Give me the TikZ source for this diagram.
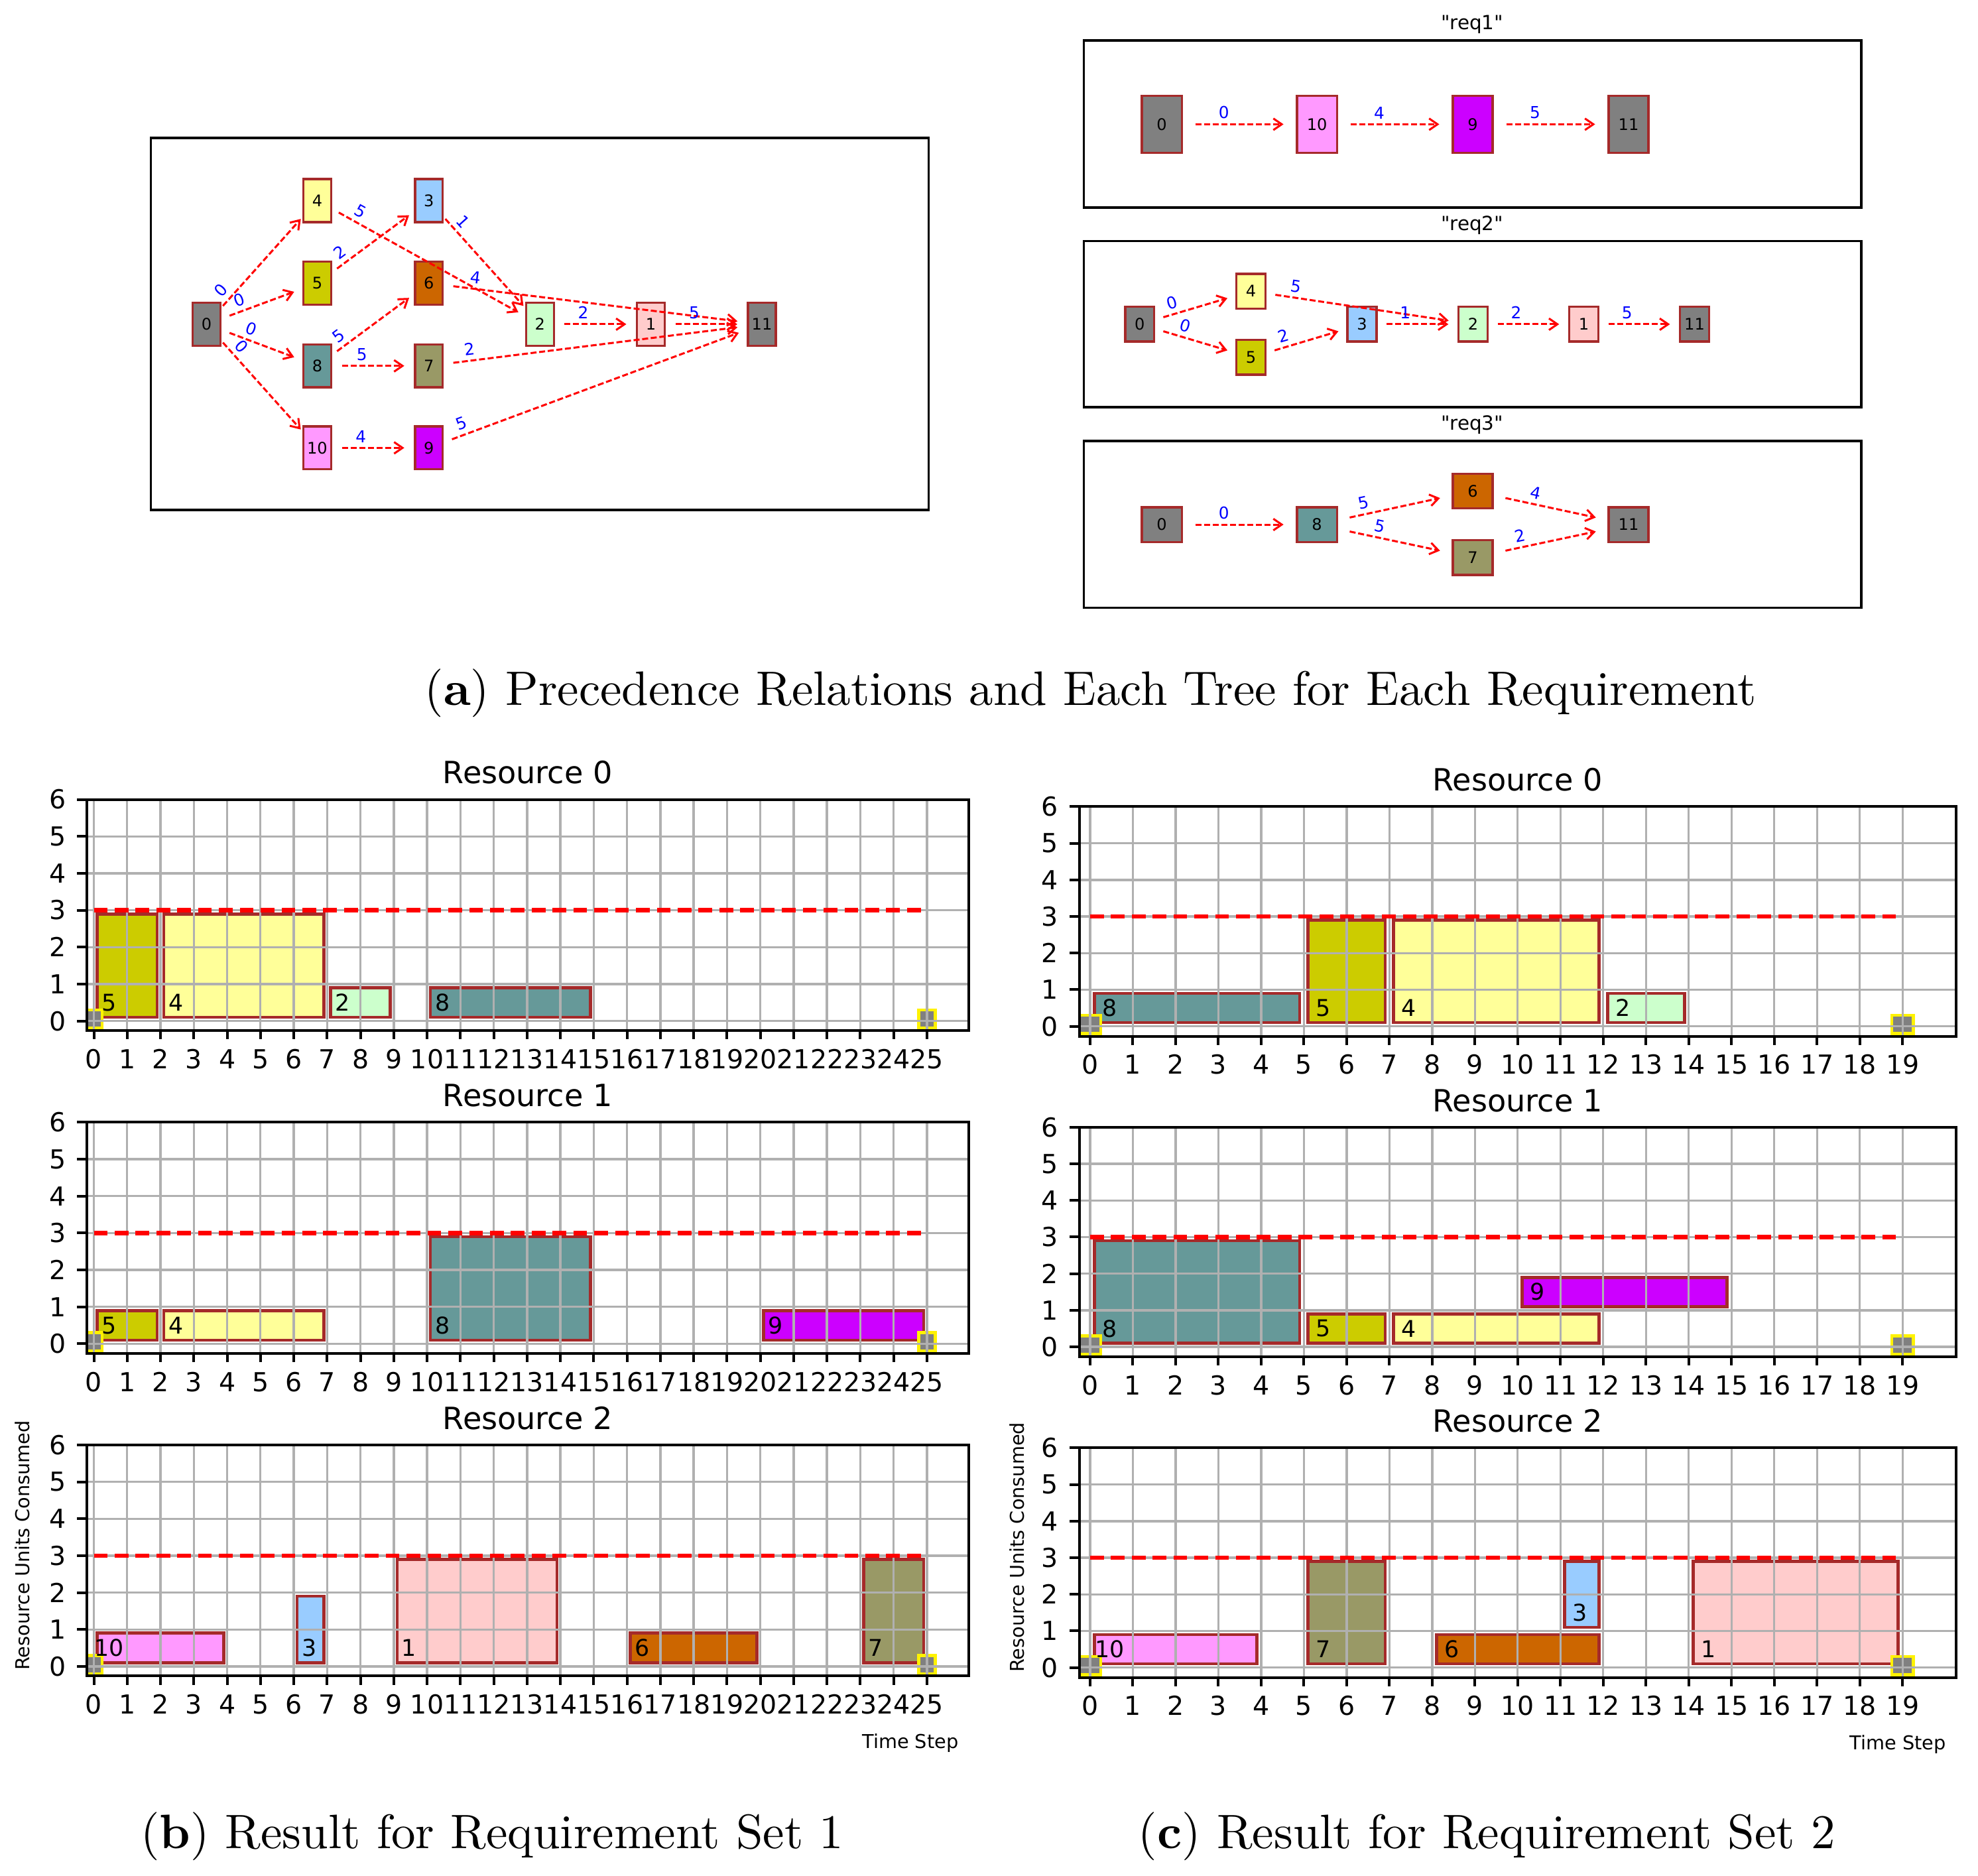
\documentclass[tikz,border=0pt]{standalone}
\usepackage{fontspec}
\newfontfamily\dv{DejaVu Sans}
\usetikzlibrary{arrows.meta}
\definecolor{brn}{HTML}{A52A2A}
\definecolor{c0}{HTML}{808080}
\definecolor{c1}{HTML}{FFCCCC}
\definecolor{c2}{HTML}{CCFFCC}
\definecolor{c3}{HTML}{99CCFF}
\definecolor{c4}{HTML}{FFFF99}
\definecolor{c5}{HTML}{CCCC00}
\definecolor{c6}{HTML}{CC6600}
\definecolor{c7}{HTML}{999966}
\definecolor{c8}{HTML}{669999}
\definecolor{c9}{HTML}{CC00FF}
\definecolor{c10}{HTML}{FF99FF}
\definecolor{c11}{HTML}{808080}
\definecolor{gridc}{HTML}{B0B0B0}
\tikzset{
  frame/.style={draw=black, line width=0.5pt},
  gnode/.style={draw=brn, line width=0.5pt, inner sep=0pt, font=\dv\fontsize{3.6}{4}\selectfont, text=black},
  lnode/.style={gnode, minimum width=0.22cm, minimum height=0.34cm},
  aonode/.style={gnode, minimum width=0.316cm, minimum height=0.45cm},
  btnode/.style={gnode, minimum width=0.23cm, minimum height=0.275cm},
  ctnode/.style={gnode, minimum width=0.316cm, minimum height=0.275cm},
  edgebase/.style={draw=red, line width=0.45pt, dash pattern=on 1.35pt off 0.6pt, -{Straight Barb[length=1.9pt,width=2.6pt]}},
  edgeA/.style={edgebase, shorten <=0.195cm, shorten >=0.195cm},
  edgeB/.style={edgebase, shorten <=0.265cm, shorten >=0.265cm},
  elab/.style={font=\dv\fontsize{3.7}{4}\selectfont, text=blue, sloped, above, inner sep=1pt},
  reqt/.style={anchor=base, inner sep=0pt, font=\dv\fontsize{4.4}{5}\selectfont},
  capt/.style={anchor=base, inner sep=0pt, font=\fontsize{10.9}{13}\selectfont},
  gridl/.style={draw=gridc, line width=0.5pt},
  capl/.style={draw=red, line width=1pt, dash pattern=on 3.1pt off 1.6pt},
  spine/.style={draw=black, line width=0.6pt},
  tickl/.style={draw=black, line width=0.6pt},
  xtl/.style={anchor=base, yshift=-0.30cm, inner sep=0pt, font=\dv\fontsize{5.9}{6}\selectfont},
  ytl/.style={anchor=east, xshift=-0.16cm, inner sep=0pt, font=\dv\fontsize{5.9}{6}\selectfont},
  ttl/.style={anchor=base, yshift=0.125cm, inner sep=0pt, font=\dv\fontsize{6.9}{8}\selectfont},
  barst/.style={draw=brn, line width=0.7pt},
  endmark/.style={fill=c0, draw=yellow, line width=0.7pt},
  blab/.style={inner sep=0pt, font=\dv\fontsize{5.2}{6}\selectfont},
  axl/.style={inner sep=0pt, font=\dv\fontsize{4.3}{5}\selectfont}
}
\newcommand\gedge[5][edgeA]{\draw[#1] (#2.center) -- node[elab,pos=#5] {#4} (#3.center);}
\newcommand\gbarrect[6]{\filldraw[barst, fill=#5] (#1+0.1,#3+0.1) rectangle (#2-0.1,#4-0.1);}
\newcommand\gbarlab[6]{\node[blab] at (#1+0.46,#3+0.5) {#6};}
\newcommand\gpanel[9]{%
 \begin{scope}[shift={(#1,#2)}]
 \begin{scope}[x=#3, y=#4]
  \begin{scope}
   \clip (#5,#8) rectangle (#6,6);
   \let\gbar\gbarrect \curbars
   \filldraw[endmark] (-0.25,-0.2) rectangle (0.25,0.3);
   \filldraw[endmark] (#7-0.25,-0.2) rectangle (#7+0.25,0.3);
   \foreach \i in {0,...,#7} \draw[gridl] (\i,#8) -- (\i,6);
   \foreach \j in {0,...,5} \draw[gridl] (#5,\j) -- (#6,\j);
   \draw[capl] (0,3) -- (#7,3);
   \let\gbar\gbarlab \curbars
  \end{scope}
  \draw[spine] (#5,#8) rectangle (#6,6);
  \foreach \i in {0,...,#7} {\draw[tickl] (\i,#8) -- ++(0pt,-0.07cm); \node[xtl] at (\i,#8) {\i};}
  \foreach \j in {0,...,6} {\draw[tickl] (#5,\j) -- ++(-0.08cm,0pt); \node[ytl] at (#5,\j) {\j};}
  \node[ttl] at ({(#5+#6)/2},6) {#9};
 \end{scope}
 \end{scope}
}
\begin{document}
\begin{tikzpicture}[x=0.01cm, y=-0.01cm]
\useasboundingbox (0,0) rectangle (1568,1487);
\fill[white] (0,0) rectangle (1568,1487);

% ---------- left precedence graph ----------
\draw[frame] (119.7,109.4) rectangle (736,404.2);
\node[lnode, fill=c0]  (L0)  at (163.7,257) {0};
\node[lnode, fill=c4]  (L4)  at (251.5,159) {4};
\node[lnode, fill=c5]  (L5)  at (251.5,224.5) {5};
\node[lnode, fill=c8]  (L8)  at (251.5,290) {8};
\node[lnode, fill=c10] (L10) at (251.5,355) {10};
\node[lnode, fill=c3]  (L3)  at (340,159) {3};
\node[lnode, fill=c6]  (L6)  at (340,224.5) {6};
\node[lnode, fill=c7]  (L7)  at (340,290) {7};
\node[lnode, fill=c9]  (L9)  at (340,355) {9};
\node[lnode, fill=c2]  (L2)  at (428,257) {2};
\node[lnode, fill=c1]  (L1)  at (516,257) {1};
\node[lnode, fill=c11] (L11) at (604,257) {11};
\gedge{L0}{L4}{0}{0.21}
\gedge{L0}{L5}{0}{0.33}
\gedge{L0}{L8}{0}{0.37}
\gedge{L0}{L10}{0}{0.24}
\gedge{L4}{L2}{5}{0.17}
\gedge{L5}{L3}{2}{0.26}
\gedge{L3}{L2}{1}{0.23}
\gedge{L8}{L6}{5}{0.25}
\gedge{L8}{L7}{5}{0.40}
\gedge{L10}{L9}{4}{0.39}
\gedge{L6}{L11}{4}{0.137}
\gedge{L2}{L1}{2}{0.39}
\gedge{L1}{L11}{5}{0.39}
\gedge{L7}{L11}{2}{0.126}
\gedge{L9}{L11}{5}{0.109}

% ---------- req1 ----------
\node[reqt] (t1) at (1167,23.5) {"req1"};
\draw[frame] (859,32) rectangle (1475.5,164.5);
\node[aonode, fill=c0]  (A0)  at (921,98.5) {0};
\node[aonode, fill=c10] (A10) at (1044,98.5) {10};
\node[aonode, fill=c9]  (A9)  at (1167.5,98.5) {9};
\node[aonode, fill=c11] (A11) at (1291,98.5) {11};
\gedge[edgeB]{A0}{A10}{0}{0.4}
\gedge[edgeB]{A10}{A9}{4}{0.4}
\gedge[edgeB]{A9}{A11}{5}{0.4}

% ---------- req2 ----------
\node[reqt] (t2) at (1167,182.5) {"req2"};
\draw[frame] (859,191) rectangle (1475.5,322.8);
\node[btnode, fill=c0]  (B0)  at (903.5,257) {0};
\node[btnode, fill=c4]  (B4)  at (991.7,230.8) {4};
\node[btnode, fill=c5]  (B5)  at (991.7,283.3) {5};
\node[btnode, fill=c3]  (B3)  at (1079.7,257) {3};
\node[btnode, fill=c2]  (B2)  at (1167.7,257) {2};
\node[btnode, fill=c1]  (B1)  at (1255.5,257) {1};
\node[btnode, fill=c11] (B11) at (1343.3,257) {11};
\gedge{B0}{B4}{0}{0.32}
\gedge{B0}{B5}{0}{0.38}
\gedge{B4}{B2}{5}{0.195}
\gedge{B5}{B3}{2}{0.32}
\gedge{B3}{B2}{1}{0.39}
\gedge{B2}{B1}{2}{0.39}
\gedge{B1}{B11}{5}{0.39}

% ---------- req3 ----------
\node[reqt] (t3) at (1167,341) {"req3"};
\draw[frame] (859,349.6) rectangle (1475.5,481.9);
\node[ctnode, fill=c0]  (C0)  at (921,415.8) {0};
\node[ctnode, fill=c8]  (C8)  at (1044,415.8) {8};
\node[ctnode, fill=c6]  (C6)  at (1167.5,389.2) {6};
\node[ctnode, fill=c7]  (C7)  at (1167.5,442) {7};
\node[ctnode, fill=c11] (C11) at (1291,415.8) {11};
\gedge[edgeB]{C0}{C8}{0}{0.4}
\gedge[edgeB]{C8}{C6}{5}{0.316}
\gedge[edgeB]{C8}{C7}{5}{0.39}
\gedge[edgeB]{C6}{C11}{4}{0.39}
\gedge[edgeB]{C7}{C11}{2}{0.32}

\node[capt] (capa) at (864.5,559) {(\textbf{a}) Precedence Relations and Each Tree for Each Requirement};

% ---------- Gantt set 1 ----------
\def\curbars{\gbar{0}{2}{0}{3}{c5}{5}\gbar{2}{7}{0}{3}{c4}{4}\gbar{7}{9}{0}{1}{c2}{2}\gbar{10}{15}{0}{1}{c8}{8}}
\gpanel{74.4}{809.3}{0.264cm}{0.2925cm}{-0.21}{26.25}{25}{-0.26}{Resource 0}
\def\curbars{\gbar{0}{2}{0}{1}{c5}{5}\gbar{2}{7}{0}{1}{c4}{4}\gbar{10}{15}{0}{3}{c8}{8}\gbar{20}{25}{0}{1}{c9}{9}}
\gpanel{74.4}{1065.2}{0.264cm}{0.2925cm}{-0.21}{26.25}{25}{-0.26}{Resource 1}
\def\curbars{\gbar{0}{4}{0}{1}{c10}{10}\gbar{6}{7}{0}{2}{c3}{3}\gbar{9}{14}{0}{3}{c1}{1}\gbar{16}{20}{0}{1}{c6}{6}\gbar{23}{25}{0}{3}{c7}{7}}
\gpanel{74.4}{1320.9}{0.264cm}{0.2925cm}{-0.21}{26.25}{25}{-0.26}{Resource 2}
\node[axl, rotate=90] (yl1) at (17.5,1225) {Resource Units Consumed};
\node[axl, anchor=base east] (ts1) at (760.5,1386) {Time Step};

% ---------- Gantt set 2 ----------
\def\curbars{\gbar{0}{5}{0}{1}{c8}{8}\gbar{5}{7}{0}{3}{c5}{5}\gbar{7}{12}{0}{3}{c4}{4}\gbar{12}{14}{0}{1}{c2}{2}}
\gpanel{864.1}{813.5}{0.3388cm}{0.29cm}{-0.25}{20.25}{19}{-0.27}{Resource 0}
\def\curbars{\gbar{0}{5}{0}{3}{c8}{8}\gbar{5}{7}{0}{1}{c5}{5}\gbar{7}{12}{0}{1}{c4}{4}\gbar{10}{15}{1}{2}{c9}{9}}
\gpanel{864.1}{1067.6}{0.3388cm}{0.29cm}{-0.25}{20.25}{19}{-0.27}{Resource 1}
\def\curbars{\gbar{0}{4}{0}{1}{c10}{10}\gbar{5}{7}{0}{3}{c7}{7}\gbar{8}{12}{0}{1}{c6}{6}\gbar{11}{12}{1}{3}{c3}{3}\gbar{14}{19}{0}{3}{c1}{1}}
\gpanel{864.1}{1321.8}{0.3388cm}{0.29cm}{-0.25}{20.25}{19}{-0.27}{Resource 2}
\node[axl, rotate=90] (yl2) at (806,1226.5) {Resource Units Consumed};
\node[axl, anchor=base east] (ts2) at (1543.3,1387) {Time Step};

\node[capt] (capb) at (390.2,1465.2) {(\textbf{b}) Result for Requirement Set 1};
\node[capt] (capc) at (1178.7,1465.2) {(\textbf{c}) Result for Requirement Set 2};
\end{tikzpicture}
\end{document}
